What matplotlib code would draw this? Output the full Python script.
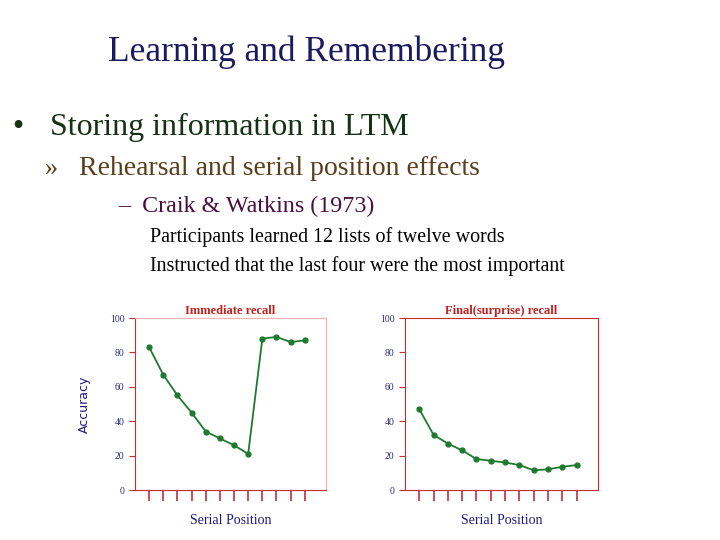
import matplotlib
matplotlib.use("Agg")
import matplotlib.pyplot as plt

positions = list(range(1, 13))
immediate = [83, 67, 55, 45, 34, 30, 26, 21, 88, 89, 86, 87]
final = [47, 32, 27, 23, 18, 17, 16, 14.5, 11.5, 12, 13.5, 14.5]
yticks = [0, 20, 40, 60, 80, 100]

fig = plt.figure(figsize=(7.2, 5.4), dpi=100)
serif = "Liberation Serif"

fig.text(306/720, 1-52/540, "Learning and Remembering", family=serif, fontsize=25.5, color="#1a1a5e", ha="center", va="center")
fig.text(12/720, 1-127/540, "•", family=serif, fontsize=23, color="#143214", va="center")
fig.text(50/720, 1-127/540, "Storing information in LTM", family=serif, fontsize=23, color="#143214", va="center")
fig.text(45/720, 1-169/540, "»", family=serif, fontsize=19, color="#5a3e1b", va="center")
fig.text(79/720, 1-169/540, "Rehearsal and serial position effects", family=serif, fontsize=20, color="#5a3e1b", va="center")
fig.text(118/720, 1-206/540, "–  Craik & Watkins (1973)", family=serif, fontsize=17.3, color="#4a1040", va="center")
fig.text(150/720, 1-237/540, "Participants learned 12 lists of twelve words", family=serif, fontsize=14.4, color="black", va="center")
fig.text(150/720, 1-266/540, "Instructed that the last four were the most important", family=serif, fontsize=14.4, color="black", va="center")

def panel(rect, data, title, ylabel, edge):
    ax = fig.add_axes(rect)
    ax.plot(positions, data, color="#1e7a2e", marker="o", markersize=3.5, lw=1.3)
    ax.set_xlim(0, 13.5)
    ax.set_ylim(0, 100)
    ax.set_yticks(yticks)
    ax.set_xticks(positions)
    ax.set_xticklabels([])
    ax.tick_params(axis="x", direction="out", length=8, color="#c03030", width=1.2)
    ax.tick_params(axis="y", direction="out", length=4, color="#c03030", labelsize=7, labelcolor="#2a2a7a")
    for lab in ax.get_yticklabels():
        lab.set_family(serif)
    for side, sp in ax.spines.items():
        sp.set_color("#c03030")
    ax.spines["top"].set_color(edge)
    ax.spines["right"].set_color(edge)
    ax.set_title(title, color="#c02020", family=serif, fontsize=9, pad=3, fontweight="bold")
    ax.set_xlabel("Serial Position", color="#1a1a7a", family=serif, fontsize=10, labelpad=6)
    if ylabel:
        ax.set_ylabel(ylabel, color="#1a1a7a", fontsize=9, labelpad=14)
    return ax

panel([135/720, 50/540, 191/720, 172/540], immediate, "Immediate recall", "Accuracy", "#f0b0b0")
panel([405/720, 50/540, 193/720, 172/540], final, "Final(surprise) recall", None, "#c03030")

fig.savefig("out.png", dpi=100)
